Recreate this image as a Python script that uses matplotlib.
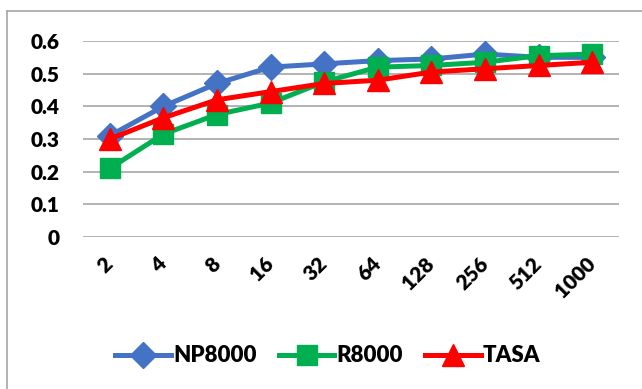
import matplotlib
matplotlib.use('Agg')
import matplotlib.pyplot as plt
from matplotlib.lines import Line2D

categories = ['2', '4', '8', '16', '32', '64', '128', '256', '512', '1000']
np8000 = [0.31, 0.40, 0.47, 0.52, 0.53, 0.54, 0.545, 0.56, 0.55, 0.55]
r8000 = [0.21, 0.315, 0.375, 0.41, 0.475, 0.52, 0.525, 0.535, 0.555, 0.56]
tasa = [0.30, 0.365, 0.42, 0.445, 0.47, 0.48, 0.505, 0.515, 0.525, 0.535]

plt.rcParams['font.family'] = ['Lato', 'DejaVu Sans']
plt.rcParams['font.weight'] = 'heavy'

fig = plt.figure(figsize=(6.42, 3.89), dpi=100)
ax = fig.add_axes([83/642, 1-237/389, (619-83)/642, (237-41)/389])

x = list(range(len(categories)))
ax.plot(x, np8000, color='#4472C4', lw=3.6, marker='D', ms=13, label='NP8000', clip_on=False, zorder=3)
ax.plot(x, r8000, color='#00B050', lw=3.6, marker='s', ms=15, label='R8000', clip_on=False, zorder=4)
ax.plot(x, tasa, color='#FF0000', lw=3.6, marker='^', ms=16, label='TASA', clip_on=False, zorder=5)

ax.set_xlim(-0.5, 9.5)
ax.set_ylim(0, 0.6)
ax.set_yticks([0, 0.1, 0.2, 0.3, 0.4, 0.5, 0.6])
ax.set_yticklabels(['0', '0.1', '0.2', '0.3', '0.4', '0.5', '0.6'], fontsize=15, fontweight='heavy')
ax.set_xticks(x)
ax.set_xticklabels(categories, fontsize=15, fontweight='heavy', rotation=45,
                   ha='right', va='center', rotation_mode='anchor')
ax.tick_params(axis='both', length=0)
ax.tick_params(axis='y', pad=17)
ax.tick_params(axis='x', pad=17)
ax.grid(axis='y', color='#a6a6a6', lw=1.2)
ax.set_axisbelow(True)
for s in ax.spines.values():
    s.set_visible(False)

fig.legend(loc='center', bbox_to_anchor=(328/642, 1-356/389), ncol=3, frameon=False,
           handlelength=2.5, columnspacing=1.0, handletextpad=0.1,
           prop={'weight': 'heavy', 'size': 16})

# outer chart border (cropped)
fig.add_artist(Line2D([7/642, 7/642], [0, 1-11/389], color='#a6a6a6', lw=1.2))
fig.add_artist(Line2D([7/642, 1], [1-11/389, 1-11/389], color='#a6a6a6', lw=1.2))

fig.savefig('out.png', dpi=100)
